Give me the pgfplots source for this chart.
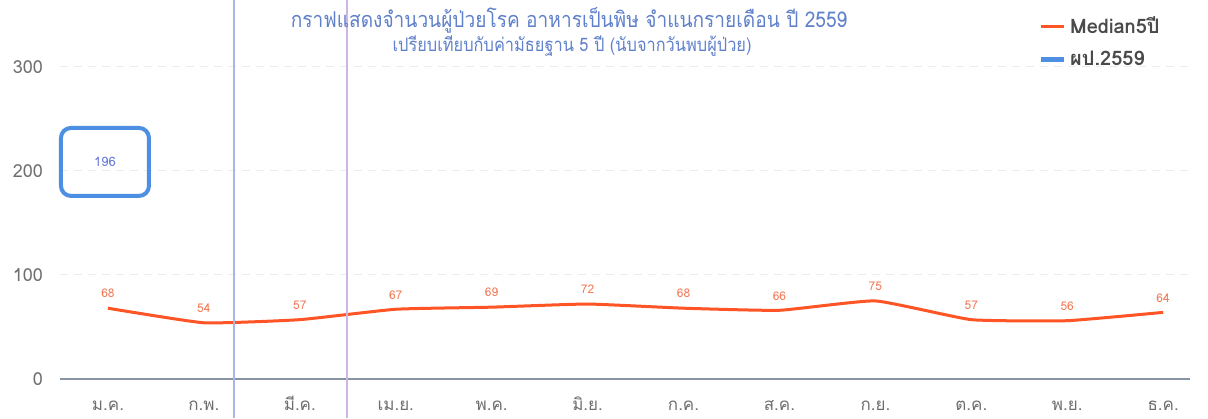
\documentclass[border=0pt]{standalone}
\usepackage{fontspec}
\setmainfont[Script=Thai]{Loma}
\newfontfamily\titlefont[Script=Thai,FakeStretch=0.88]{Loma}
\usepackage{pgfplots}
\pgfplotsset{compat=1.18}

\definecolor{medline}{HTML}{FF5426}
\definecolor{medlabel}{HTML}{F07A58}
\definecolor{cumblue}{HTML}{4D8FE3}
\definecolor{boxtext}{HTML}{6A78D8}
\definecolor{titleblue}{HTML}{5F80CA}
\definecolor{ticktext}{HTML}{6E6E6E}
\definecolor{legtext}{HTML}{4A4A4A}
\definecolor{zeroline}{HTML}{8794A3}
\definecolor{scanblue}{HTML}{AAB6EA}
\definecolor{scanpurple}{HTML}{CDB6E4}

\begin{document}
\begin{tikzpicture}
\path[use as bounding box] (0,0) rectangle (604pt,209pt);

\begin{axis}[
    at={(30pt,19.5pt)}, anchor=south west,
    scale only axis, width=565pt, height=177pt,
    xmin=-0.5, xmax=11.28, ymin=0, ymax=340,
    axis line style={draw=none},
    tick style={draw=none},
    xtick={0,...,11},
    xticklabels={ม.ค.,ก.พ.,มี.ค.,เม.ย.,พ.ค.,มิ.ย.,ก.ค.,ส.ค.,ก.ย.,ต.ค.,พ.ย.,ธ.ค.},
    xticklabel style={text=ticktext, font=\fontsize{8.5}{10}\selectfont, anchor=base, yshift=-15.5pt},
    ytick={100,200,300},
    extra y ticks={0},
    extra y tick style={ymajorgrids=true, grid style={zeroline, line width=0.8pt, solid}},
    yticklabel style={text=ticktext, font=\fontsize{9}{10}\selectfont, xshift=-5pt},
    /pgf/number format/assume math mode=true,
    ymajorgrids=true,
    grid style={gray!15, dash pattern=on 4pt off 3pt},
    legend style={at={(axis description cs:0.860,1.047)}, anchor=north west,
      draw=none, fill=none, font=\bfseries\fontsize{10}{12}\selectfont,
      text=legtext, row sep=3pt},
    legend cell align=left,
    legend image code/.code={\draw[#1] (0pt,0pt) -- (11.5pt,0pt);},
]

\addplot[medline, line width=1.5pt, smooth, tension=0.25,
    nodes near coords,
    nodes near coords style={text=medlabel, font=\fontsize{6}{7}\selectfont, anchor=south, yshift=1pt}]
  coordinates {
    (0,68)(1,54)(2,57)(3,67)(4,69)(5,72)(6,68)(7,66)(8,75)(9,57)(10,56)(11,64)
  };
\addlegendentry{Median5ปี}

\addplot[cumblue, line width=2.5pt,
    nodes near coords,
    nodes near coords style={draw=cumblue, line width=2pt, rounded corners=5pt,
      minimum width=44pt, minimum height=34pt, text=boxtext,
      font=\fontsize{6.5}{7}\selectfont, anchor=center, xshift=-1.5pt, yshift=6.5pt}]
  coordinates {(0,196)};
\addlegendentry{ผป.2559}

\end{axis}

\draw[scanblue, line width=0.6pt] (117pt,0pt) -- (117pt,209pt);
\draw[scanpurple, line width=0.6pt] (173.5pt,0pt) -- (173.5pt,209pt);

\node[text=titleblue, font=\titlefont\fontsize{10.85}{12}\selectfont] at (284.5pt,199pt)
  {กราฟแสดงจำนวนผู้ป่วยโรค อาหารเป็นพิษ จำแนกรายเดือน ปี 2559};
\node[text=titleblue, font=\titlefont\fontsize{9.3}{10}\selectfont] at (286pt,186pt)
  {เปรียบเทียบกับค่ามัธยฐาน 5 ปี (นับจากวันพบผู้ป่วย)};
\end{tikzpicture}
\end{document}
